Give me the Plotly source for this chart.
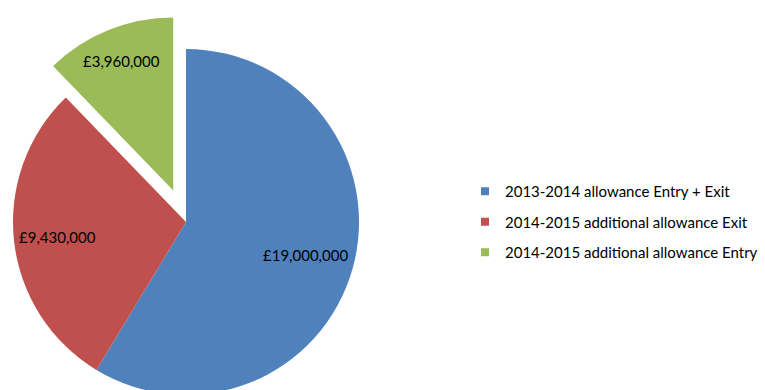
import math
import plotly.graph_objects as go

# Funding allowances shown in the pie
labels = [
    "2013-2014 allowance Entry + Exit",
    "2014-2015 additional allowance Exit",
    "2014-2015 additional allowance Entry",
]
values = [19000000, 9430000, 3960000]
colors = ["#4F81BD", "#C0504D", "#9BBB59"]
exploded = [False, False, True]

FONT = "Lato"
W, H = 765, 400
CX, CY, R = 186, 222, 173      # pie centre / radius in px
PULL_PX = 34                    # distance the exploded slice is moved out
LABEL_RADIUS = [0.715, 0.75, 0.805]  # value label distance from centre, as a fraction of R

total = sum(values)
text_all = ["£{:,}".format(v) for v in values]


def pie_domain(dx=0.0, dy=0.0):
    x0 = (CX + dx - R) / W
    x1 = (CX + dx + R) / W
    y0 = 1 - (CY + dy + R) / H
    y1 = 1 - (CY + dy - R) / H
    return dict(x=[max(0, x0), min(1, x1)], y=[max(0, y0), min(1, y1)])


fig = go.Figure()

# main pie: slices that stay in place, exploded ones left transparent
fig.add_trace(go.Pie(
    labels=labels, values=values, sort=False, direction="clockwise", rotation=0,
    marker=dict(colors=[("rgba(0,0,0,0)" if e else c) for c, e in zip(colors, exploded)],
                line=dict(width=0)),
    textinfo="none",
    domain=pie_domain(), showlegend=False, hoverinfo="skip",
))

annotations = []
cum = 0.0
for i, v in enumerate(values):
    mid = 2 * math.pi * (cum + v / 2) / total
    ux, uy = math.sin(mid), -math.cos(mid)   # screen direction of the slice bisector
    ox, oy = (ux * PULL_PX, uy * PULL_PX) if exploded[i] else (0.0, 0.0)
    if exploded[i]:
        # exploded slice: same pie shifted outward along its bisector
        fig.add_trace(go.Pie(
            labels=labels, values=values, sort=False, direction="clockwise", rotation=0,
            marker=dict(colors=[(c if j == i else "rgba(0,0,0,0)") for j, c in enumerate(colors)],
                        line=dict(width=0)),
            textinfo="none",
            domain=pie_domain(ox, oy), showlegend=False, hoverinfo="skip",
        ))
    lx = CX + ox + ux * R * LABEL_RADIUS[i]
    ly = CY + oy + uy * R * LABEL_RADIUS[i]
    annotations.append(dict(
        x=lx / W, y=1 - ly / H, xref="paper", yref="paper",
        text=text_all[i], showarrow=False, xanchor="center", yanchor="middle",
        font=dict(family=FONT, size=15, color="black"),
    ))
    cum += v

# legend entries
for lab, col in zip(labels, colors):
    fig.add_trace(go.Scatter(
        x=[None], y=[None], mode="markers", name=lab, legendgroup=lab,
        marker=dict(symbol="square", size=8, color=col),
    ))

fig.update_layout(
    width=W, height=H,
    margin=dict(l=0, r=0, t=0, b=0),
    paper_bgcolor="white", plot_bgcolor="white",
    xaxis=dict(visible=False), yaxis=dict(visible=False),
    annotations=annotations,
    legend=dict(x=465 / W, xanchor="left", y=1 - 222 / H, yanchor="middle",
                traceorder="grouped", tracegroupgap=8,
                font=dict(family=FONT, size=15, color="black"),
                bgcolor="rgba(0,0,0,0)"),
)

fig.write_html("out.html")
